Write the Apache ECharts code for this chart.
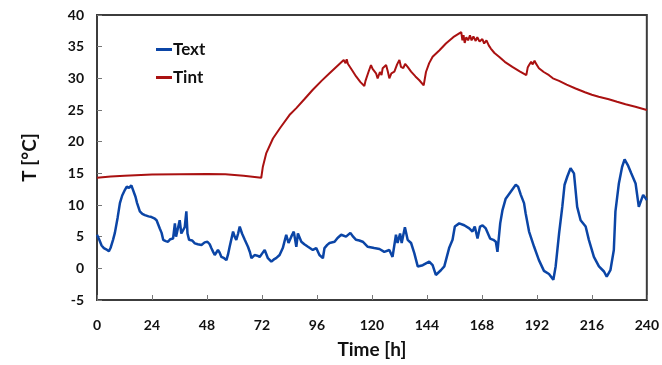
<!DOCTYPE html>
<html>
<head>
<meta charset="utf-8">
<script src="https://cdn.jsdelivr.net/npm/echarts@6/dist/echarts.min.js"></script>
<style>html,body{margin:0;padding:0;background:#fff;}#c{width:662px;height:365px;}</style>
</head>
<body>
<div id="c"></div>
<script>
var xTicks = [0, 24, 48, 72, 96, 120, 144, 168, 192, 216, 240];
var yTicks = [-5, 0, 5, 10, 15, 20, 25, 30, 35, 40];

var textHours = [0,1,2,3,4,5.2,6,7,7.8,9,10,11,12.2,13,14,15,15.8,16.8,17.5,18.7,19.8,20.9,22.5,23.8,25,26,27.4,28.2,28.9,30,31,32,33.2,34,34.5,35.1,36.1,36.8,37.6,38.3,39,39.5,40.2,41.5,42.7,44,45.6,47,48.2,49.2,49.9,50.7,51.4,52.8,53.5,54.3,55.5,56.5,57.2,57.9,59.4,60.1,60.8,61.6,62.3,63.3,64.5,65.9,66.8,67.4,68.8,70,71,72.2,73.2,74.6,76.1,77.2,78.2,79.7,81.1,82.6,83.6,84.8,85.9,86.5,87,87.7,89.2,90.5,92.1,94.2,95.7,97.1,98.6,99.3,100.5,101.5,103.7,105,106.6,108.7,110.6,111.8,113.1,114.5,116,118.2,121,123.3,125.4,127.6,129,130.5,131.2,132.3,133,134.4,135.6,137.1,138.5,140,142.2,145,146.5,147.9,150.1,151.6,153.7,155.2,156.2,158.1,160.3,162.5,163.9,164.9,166.1,167.2,168.3,169.7,170.4,171.6,173,174.1,174.8,176,177,178.4,180.6,182,182.8,183.8,185,186.4,187.1,188.6,190.8,192.9,195.1,197.3,199.2,200.2,201.7,203.1,204.1,205.3,206.7,208.2,209.6,211.1,213.3,214.7,216.9,219.1,221.3,222.5,224.1,225.6,226.3,227.8,229.2,230.3,231.7,233.2,235.1,236.5,237.3,238.4,240];
var textValues = [5.3,4.5,3.6,3.2,3.0,2.7,3.3,4.5,5.6,8,10.3,11.5,12.4,12.9,12.7,13.1,13,11.3,10.3,9,8.6,8.4,8.2,8.1,7.9,7.6,6.3,5.6,4.5,4.3,4.2,4.6,4.7,7.1,5.0,5.3,7.6,5.5,5.8,6.5,9,5.5,4.5,4.4,3.95,3.8,3.7,4.1,4.2,3.8,3.2,2.6,2.1,2.9,2.5,1.8,1.6,1.3,2.2,3.4,5.8,5.0,4.5,5.5,6.6,5.5,4.5,3.4,2.5,1.6,2.1,2.0,1.8,2.4,2.9,1.6,1.05,1.4,1.6,2.1,3.2,5.3,4.0,5.0,5.8,4.5,3.4,5.5,4.2,3.8,3.4,2.9,3.2,2.1,1.6,3.2,3.7,4.0,4.2,4.8,5.3,5.0,5.6,5.0,4.5,4.4,4.2,3.4,3.2,3.05,2.6,2.9,1.8,5.3,4.0,5.5,4.0,6.5,4.5,4.0,2.4,0.3,0.5,1.05,0.5,-1.05,-0.3,0.3,3.2,4.5,6.6,7.1,6.8,6.3,5.8,6.6,4.7,6.6,6.8,6.3,6.6,4.7,4.5,4.2,2.6,7.1,9.2,11,12.1,12.8,13.2,12.9,11.6,10.3,8.7,5.8,3.4,1.3,-0.4,-0.9,-1.8,0.3,5.5,9.7,13.2,14.5,15.8,15,9.7,7.6,6.6,4.5,1.8,0.3,-0.5,-1.3,-0.3,2.9,9,13.4,16,17.2,16.3,15,13.4,9.7,10,11.6,10.8];

var tintHours = [0,6,12,24,36,48,56,64,71.7,72.4,73.9,76.8,80,84,87,90.5,94.2,98,101.5,105,107.7,108.5,109,109.5,110.2,111.5,113.1,115,116.7,117.2,117.7,118.5,119.6,120.3,121,121.8,122.5,123.5,124.2,124.7,126.2,127,127.6,128.5,129.8,131,132,132.7,133.7,134.5,135.6,137.1,139,140.7,142.6,143.6,145,146.5,149.4,152.3,155.5,159,159.5,160,160.5,161.2,162,162.8,163.5,164.3,165.3,166,167,168.2,169,170,171,171.9,173.5,175.5,178,181.3,184.5,187.4,188,188.6,189.5,190.2,191,191.5,192.2,192.9,195,197.3,199,201.7,205,208.9,213,216,219,223.4,227,230.7,235,240];
var tintValues = [14.3,14.5,14.6,14.8,14.85,14.9,14.85,14.6,14.3,16.05,18.2,20.5,22.2,24.2,25.3,26.7,28.2,29.6,30.8,32,32.9,32.4,33,32.3,32.1,31.2,30.3,29.4,28.8,29.6,29.7,31,32.1,31.5,31.6,30.8,30,31,30.5,31.6,32.1,31,30,30.8,31.05,32.2,32.9,31.8,31.6,32.3,31.8,31.05,30.3,29.7,28.9,31,32.4,33.4,34.4,35.5,36.5,37.3,36,36.8,35.6,36.5,36,36.8,36,36.6,35.9,36.5,35.8,36.2,35.5,36,35.2,34.7,34,33.4,32.6,31.8,31.1,30.5,31.7,32.1,32.6,32.2,32.8,32.4,32.6,31.6,31,30.5,30,29.6,29,28.4,27.8,27.4,27.1,26.7,26.3,25.9,25.5,25];

function pairs(xs, ys) { return xs.map(function (x, i) { return [x, ys[i]]; }); }

var FONT = 'Lato';
var chart = echarts.init(document.getElementById('c'), null, { renderer: 'canvas' });
chart.setOption({
  animation: false,
  backgroundColor: '#fff',
  grid: { left: 97, top: 15, right: 14, bottom: 65, show: true, borderColor: '#3c3c3c', borderWidth: 2, backgroundColor: 'transparent' },
  legend: {
    orient: 'vertical', left: 151, top: 36, itemGap: 11,
    itemWidth: 16, itemHeight: 3, icon: 'rect',
    textStyle: { fontFamily: FONT, fontWeight: 'bold', fontSize: 17, color: '#111', padding: [0, 0, 0, -4] },
    data: ['Text', 'Tint']
  },
  xAxis: {
    type: 'value', min: xTicks[0], max: xTicks[xTicks.length - 1], interval: 24,
    name: 'Time [h]', nameLocation: 'middle', nameGap: 40,
    nameTextStyle: { fontFamily: FONT, fontWeight: 'bold', fontSize: 19, color: '#111' },
    axisLine: { show: true, onZero: false, lineStyle: { color: '#3c3c3c', width: 2 } },
    axisTick: { show: true, inside: true, length: 5, lineStyle: { color: '#777', width: 1 } },
    axisLabel: { fontFamily: FONT, fontWeight: 'bold', fontSize: 14, color: '#111', margin: 18 },
    splitLine: { show: false }
  },
  yAxis: {
    type: 'value', min: yTicks[0], max: yTicks[yTicks.length - 1], interval: 5,
    name: 'T [°C]', nameLocation: 'middle', nameGap: 58, nameRotate: 90,
    nameTextStyle: { fontFamily: FONT, fontWeight: 'bold', fontSize: 19, color: '#111' },
    axisLine: { show: true, onZero: false, lineStyle: { color: '#3c3c3c', width: 2 } },
    axisTick: { show: true, inside: true, length: 5, lineStyle: { color: '#777', width: 1 } },
    axisLabel: { fontFamily: FONT, fontWeight: 'bold', fontSize: 14, color: '#111', margin: 13 },
    splitLine: { show: false }
  },
  series: [
    { name: 'Text', type: 'line', data: pairs(textHours, textValues), showSymbol: false, symbol: 'none',
      lineStyle: { color: '#0b45a6', width: 2.5 }, itemStyle: { color: '#0b45a6' } },
    { name: 'Tint', type: 'line', data: pairs(tintHours, tintValues), showSymbol: false, symbol: 'none',
      lineStyle: { color: '#aa1111', width: 2 }, itemStyle: { color: '#aa1111' } }
  ]
});
</script>
</body>
</html>
